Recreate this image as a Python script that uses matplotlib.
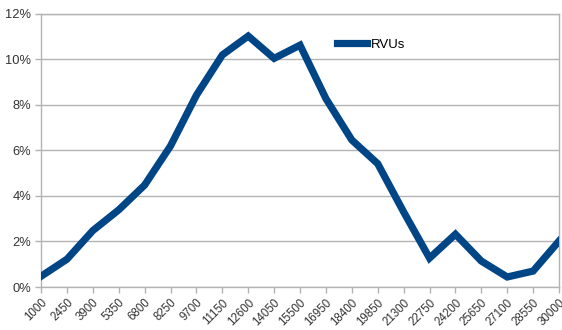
import matplotlib
matplotlib.use("Agg")
import matplotlib.pyplot as plt
from matplotlib.ticker import FuncFormatter

# RVU buckets and share of encounters (%)
rvu_buckets = [1000, 2450, 3900, 5350, 6800, 8250, 9700, 11150, 12600, 14050,
               15500, 16950, 18400, 19850, 21300, 22750, 24200, 25650, 27100,
               28550, 30000]
share_pct = [0.47, 1.22, 2.48, 3.39, 4.48, 6.2, 8.43, 10.2, 11.03, 10.05,
             10.63, 8.28, 6.46, 5.42, 3.3, 1.27, 2.32, 1.14, 0.44,
             0.7, 2.02]
series_name = "RVUs"
y_ticks = [0, 2, 4, 6, 8, 10, 12]

plt.rcParams['font.family'] = ['Liberation Sans', 'DejaVu Sans']

fig = plt.figure(figsize=(5.62, 3.30), dpi=100)
ax = fig.add_axes([0.073, 0.1303, 0.9217, 0.8273])

x = list(range(len(rvu_buckets)))
ax.plot(x, share_pct, color="#004586", linewidth=5.2, solid_joinstyle="miter",
        label=series_name, zorder=3)

ax.set_xlim(0, len(rvu_buckets) - 1)
ax.set_ylim(0, 12)
ax.set_yticks(y_ticks)
ax.yaxis.set_major_formatter(FuncFormatter(lambda v, p: f"{v:.0f}%"))
ax.set_xticks(x)
ax.set_xticklabels([str(v) for v in rvu_buckets], rotation=45, ha="right",
                   va="top", rotation_mode="anchor")

ax.grid(axis="y", color="#b3b3b3", linewidth=1)
ax.set_axisbelow(True)
for s in ax.spines.values():
    s.set_color("#b3b3b3")
    s.set_linewidth(1)
ax.tick_params(axis="both", colors="#b3b3b3", labelcolor="#333333",
               length=4, width=1)
ax.tick_params(axis="y", pad=3, labelsize=9.3)
ax.tick_params(axis="x", pad=3, labelsize=8.3)

ax.legend(loc="center left", bbox_to_anchor=(0.571, 0.888), frameon=False,
          fontsize=9.5, handlelength=2.3, handletextpad=0.3, borderpad=0,
          borderaxespad=0)

fig.savefig("out.png", dpi=100)
